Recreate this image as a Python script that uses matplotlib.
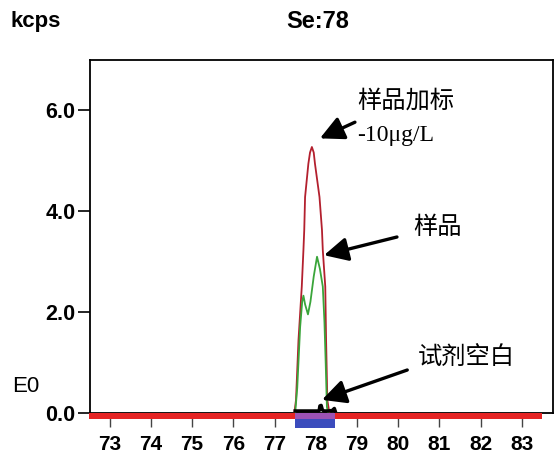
import matplotlib
matplotlib.use("Agg")
import matplotlib.pyplot as plt
from matplotlib.patches import Rectangle

# --- data ---
x_ticks = [73, 74, 75, 76, 77, 78, 79, 80, 81, 82, 83]
y_ticks = [0.0, 2.0, 4.0, 6.0]

# sample + 10 ug/L spike (red)
spike_x = [77.48, 77.52, 77.58, 77.66, 77.70, 77.72, 77.74, 77.82, 77.86, 77.905,
           77.95, 77.98, 78.09, 78.15, 78.17, 78.23, 78.25, 78.28, 78.33]
spike_y = [0.0, 0.26, 1.44, 2.50, 3.22, 3.62, 4.27, 4.93, 5.15, 5.26,
           5.15, 4.93, 4.27, 3.62, 3.22, 2.50, 1.44, 0.26, 0.0]

# sample (green)
sample_x = [77.50, 77.55, 77.62, 77.67, 77.70, 77.74, 77.81, 77.87, 77.95,
            78.03, 78.10, 78.17, 78.21, 78.24, 78.27, 78.30]
sample_y = [0.0, 0.50, 1.70, 2.20, 2.32, 2.15, 1.95, 2.20, 2.70,
            3.09, 2.85, 2.50, 1.80, 1.00, 0.12, 0.0]

# reagent blank (black)
blank_x = [77.50, 77.60, 77.70, 77.80, 77.90, 78.00, 78.08, 78.10, 78.13,
           78.16, 78.20, 78.30, 78.40, 78.45, 78.47]
blank_y = [0.04, 0.04, 0.04, 0.04, 0.04, 0.04, 0.04, 0.14, 0.15,
           0.06, 0.04, 0.04, 0.05, 0.09, 0.04]

baseline_range = (72.5, 83.48)    # red scan bar
window_range = (77.5, 78.47)      # integration window (blue)

plt.rcParams['font.family'] = ['Liberation Sans', 'DejaVu Sans']

fig = plt.figure(figsize=(5.58, 4.54), dpi=100)
ax = fig.add_axes([90 / 558, 41 / 454, 462.7 / 558, 353 / 454])

ax.plot(spike_x, spike_y, color='#b3202e', lw=1.3, zorder=4)
ax.plot(sample_x, sample_y, color='#3aa53a', lw=1.3, zorder=5)
ax.plot(blank_x, blank_y, color='black', lw=2.5, zorder=6)

# bars under the axis
ax.add_patch(Rectangle((baseline_range[0], -0.12), baseline_range[1] - baseline_range[0], 0.12,
                       color='#e52424', lw=0, clip_on=False, zorder=7))
ax.add_patch(Rectangle((window_range[0], -0.30), window_range[1] - window_range[0], 0.18,
                       color='#3b4cbd', lw=0, clip_on=False, zorder=8))
ax.add_patch(Rectangle((window_range[0], -0.12), window_range[1] - window_range[0], 0.12,
                       color='#9c52b4', lw=0, clip_on=False, zorder=8))

ax.set_xlim(72.52, 83.75)
ax.set_ylim(0, 6.98)
ax.set_xticks(x_ticks)
ax.set_xticklabels([str(t) for t in x_ticks])
ax.set_yticks(y_ticks)
ax.set_yticklabels([f"{t:.1f}" for t in y_ticks])
ax.tick_params(axis='x', direction='out', length=10, width=1, color='#444444', pad=6,
               labelsize=15)
ax.tick_params(axis='y', direction='out', length=9, width=1.2, pad=1.5, labelsize=15.5)
for lab in ax.get_xticklabels() + ax.get_yticklabels():
    lab.set_fontweight('bold')
for sp in ax.spines.values():
    sp.set_linewidth(1.3)

# annotations
cjk = ['Noto Sans CJK SC', 'DejaVu Sans']
arrow = dict(arrowstyle='-|>,head_length=0.8,head_width=0.4', lw=2.4, color='black',
             mutation_scale=18, shrinkA=0, shrinkB=0)
ax.annotate('', xy=(78.10, 5.43), xytext=(78.95, 5.75), arrowprops=arrow, zorder=9)
ax.annotate('', xy=(78.20, 3.12), xytext=(79.97, 3.48), arrowprops=arrow, zorder=9)
ax.annotate('', xy=(78.15, 0.26), xytext=(80.22, 0.85), arrowprops=arrow, zorder=9)

ax.text(79.0, 6.17, '样品加标', family=cjk, fontsize=17.5, va='center', ha='left')
ax.text(79.0, 5.49, '-10μg/L', family=['Liberation Serif', 'DejaVu Serif'], fontsize=17,
        va='center', ha='left')
ax.text(80.36, 3.68, '样品', family=cjk, fontsize=17.5, va='center', ha='left')
ax.text(80.48, 1.11, '试剂空白', family=cjk, fontsize=17.5, va='center', ha='left')

# labels outside the frame
fig.text(10 / 558, 1 - 22 / 454, 'kcps', fontsize=16, fontweight='bold', va='center', ha='left')
fig.text(318 / 558, 1 - 22 / 454, 'Se:78', fontsize=17, fontweight='bold', va='center', ha='center')
fig.text(12 / 558, 1 - 386 / 454, 'E0', fontsize=16, va='center', ha='left')

fig.savefig('out.png', dpi=100)
